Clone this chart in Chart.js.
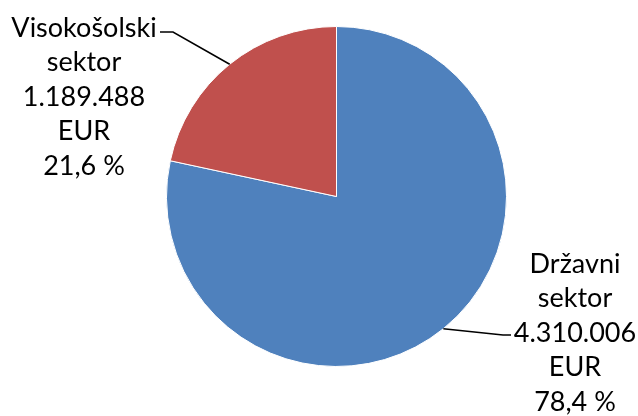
<!DOCTYPE html>
<html>
<head>
<meta charset="utf-8">
<script src="https://cdn.jsdelivr.net/npm/chart.js@4/dist/chart.umd.min.js"></script>
<style>
  html, body { margin: 0; padding: 0; background: #fff; }
  canvas { display: block; }
</style>
</head>
<body>
<canvas id="pie" width="638" height="416"></canvas>
<script>
const sectors = ["Državni sektor", "Visokošolski sektor"];
const amounts = [4310006, 1189488];
const shares = [78.4, 21.6];
const sliceColors = ["#4F81BD", "#C0504D"];

// label lines, as they are wrapped in the picture
const labelLines = [
  ["Državni", "sektor", "4.310.006", "EUR", "78,4 %"],
  ["Visokošolski", "sektor", "1.189.488", "EUR", "21,6 %"],
];

const FONT = "27px Lato";

// text block centre (x) and first line (y), leader elbow and end point
const labelPlaces = [
  { x: 575, y: 264, elbow: [503, 335], end: [511, 335] },
  { x: 84, y: 28, elbow: [173, 32], end: [160, 32] },
];

const labelPlugin = {
  id: "pieLabels",
  afterDraw(chart) {
    const ctx = chart.ctx;
    const meta = chart.getDatasetMeta(0);
    ctx.save();
    meta.data.forEach((arc, i) => {
      const p = labelPlaces[i];
      const mid = (arc.startAngle + arc.endAngle) / 2;
      const sx = arc.x + Math.cos(mid) * arc.outerRadius;
      const sy = arc.y + Math.sin(mid) * arc.outerRadius;
      ctx.strokeStyle = "#000";
      ctx.lineWidth = 1.5;
      ctx.beginPath();
      ctx.moveTo(sx, sy);
      ctx.lineTo(p.elbow[0], p.elbow[1]);
      ctx.lineTo(p.end[0], p.end[1]);
      ctx.stroke();

      ctx.fillStyle = "#000";
      ctx.font = FONT;
      ctx.textAlign = "center";
      ctx.textBaseline = "middle";
      labelLines[i].forEach((line, k) => {
        ctx.fillText(line, p.x, p.y + k * 34.5);
      });
    });
    ctx.restore();
  },
};

new Chart(document.getElementById("pie"), {
  type: "pie",
  data: {
    labels: sectors,
    datasets: [
      {
        data: amounts,
        backgroundColor: sliceColors,
        borderColor: "#fff",
        borderWidth: 1,
      },
    ],
  },
  options: {
    responsive: false,
    animation: false,
    layout: { padding: { left: 166, right: 131, top: 26, bottom: 49 } },
    plugins: {
      legend: { display: false },
      tooltip: { enabled: false },
    },
  },
  plugins: [labelPlugin],
});
</script>
</body>
</html>
